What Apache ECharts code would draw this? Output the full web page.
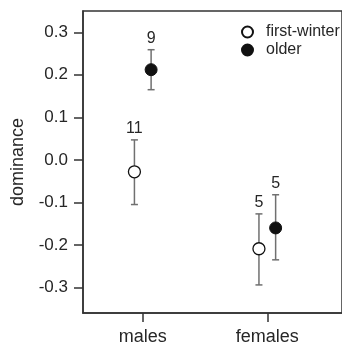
<!DOCTYPE html>
<html><head><meta charset="utf-8">
<script src="https://cdn.jsdelivr.net/npm/echarts@6/dist/echarts.min.js"></script>
<style>html,body{margin:0;padding:0;background:#fff}#c{width:342px;height:347px}</style>
</head><body><div id="c"></div>
<script>
const categories = ['males', 'females'];
const yTickValues = [-0.3, -0.2, -0.1, 0.0, 0.1, 0.2, 0.3];
const groups = ['first-winter', 'older'];
const firstWinterMean = [-0.028, -0.209];
const firstWinterLow = [-0.105, -0.294];
const firstWinterHigh = [0.047, -0.127];
const firstWinterN = [11, 5];
const olderMean = [0.212, -0.160];
const olderLow = [0.165, -0.235];
const olderHigh = [0.259, -0.082];
const olderN = [9, 5];

const dodge = 0.067;
const font = 'Liberation Sans, Arial, sans-serif';
const txt = '#262626';

function pts(mean, off) { return mean.map((m, i) => [i + 1 + off, m]); }
function bars(mean, low, high, n, off) {
  return mean.map((m, i) => [i + 1 + off, low[i], high[i], n[i]]);
}
function errSeries(data) {
  return {
    type: 'custom', z: 1, silent: true,
    data: data,
    renderItem: function (params, api) {
      const x = api.value(0);
      const lo = api.coord([x, api.value(1)]);
      const hi = api.coord([x, api.value(2)]);
      const w = 3.5;
      const st = { stroke: '#707070', lineWidth: 1.5 };
      return {
        type: 'group', children: [
          { type: 'line', shape: { x1: lo[0], y1: lo[1], x2: hi[0], y2: hi[1] }, style: st },
          { type: 'line', shape: { x1: lo[0] - w, y1: lo[1], x2: lo[0] + w, y2: lo[1] }, style: st },
          { type: 'line', shape: { x1: hi[0] - w, y1: hi[1], x2: hi[0] + w, y2: hi[1] }, style: st },
          { type: 'text', x: hi[0], y: hi[1] - 3, style: { text: String(api.value(3)), fill: txt, font: '16px ' + font, textAlign: 'center', textVerticalAlign: 'bottom' } }
        ]
      };
    }
  };
}

const chart = echarts.init(document.getElementById('c'));
chart.setOption({
  animation: false,
  grid: { left: 83, right: -22, top: 11, bottom: 34, show: true, borderColor: '#333', borderWidth: 1.5, containLabel: false },
  legend: {
    orient: 'vertical', left: 241, top: 24, padding: 0, itemWidth: 11, itemHeight: 11, itemGap: 2,
    data: groups.map(g => ({ name: g, icon: 'circle' })),
    textStyle: { fontFamily: font, fontSize: 16, color: txt, padding: [0, 0, 0, 8] }
  },
  xAxis: {
    type: 'value', min: 0.52, max: 2.6,
    axisLine: { show: true, onZero: false, lineStyle: { color: '#333', width: 1.5 } },
    axisTick: { show: true, length: 9, customValues: [1, 2], lineStyle: { color: '#333', width: 1.5 } },
    axisLabel: { customValues: [1, 2], formatter: v => categories[Math.round(v) - 1], fontFamily: font, fontSize: 18, color: txt, margin: 15 },
    splitLine: { show: false }
  },
  yAxis: {
    type: 'value', min: -0.36, max: 0.35,
    name: 'dominance', nameLocation: 'middle', nameGap: 56, nameRotate: 90,
    nameTextStyle: { fontFamily: font, fontSize: 18, color: txt },
    axisLine: { show: true, onZero: false, lineStyle: { color: '#333', width: 1.5 } },
    axisTick: { show: true, length: 9, customValues: yTickValues, lineStyle: { color: '#333', width: 1.5 } },
    axisLabel: { customValues: yTickValues, formatter: v => (Math.abs(v) < 1e-9 ? 0 : v).toFixed(1), fontFamily: font, fontSize: 17, color: txt, margin: 15 },
    splitLine: { show: false }
  },
  series: [
    errSeries(bars(firstWinterMean, firstWinterLow, firstWinterHigh, firstWinterN, -dodge)),
    errSeries(bars(olderMean, olderLow, olderHigh, olderN, dodge)),
    { name: groups[0], type: 'scatter', z: 3, symbol: 'circle', symbolSize: 12,
      itemStyle: { color: '#fff', borderColor: '#111', borderWidth: 1.3, opacity: 1 },
      data: pts(firstWinterMean, -dodge) },
    { name: groups[1], type: 'scatter', z: 3, symbol: 'circle', symbolSize: 12,
      itemStyle: { color: '#111', borderColor: '#111', borderWidth: 1, opacity: 1 },
      data: pts(olderMean, dodge) }
  ]
});
</script></body></html>
